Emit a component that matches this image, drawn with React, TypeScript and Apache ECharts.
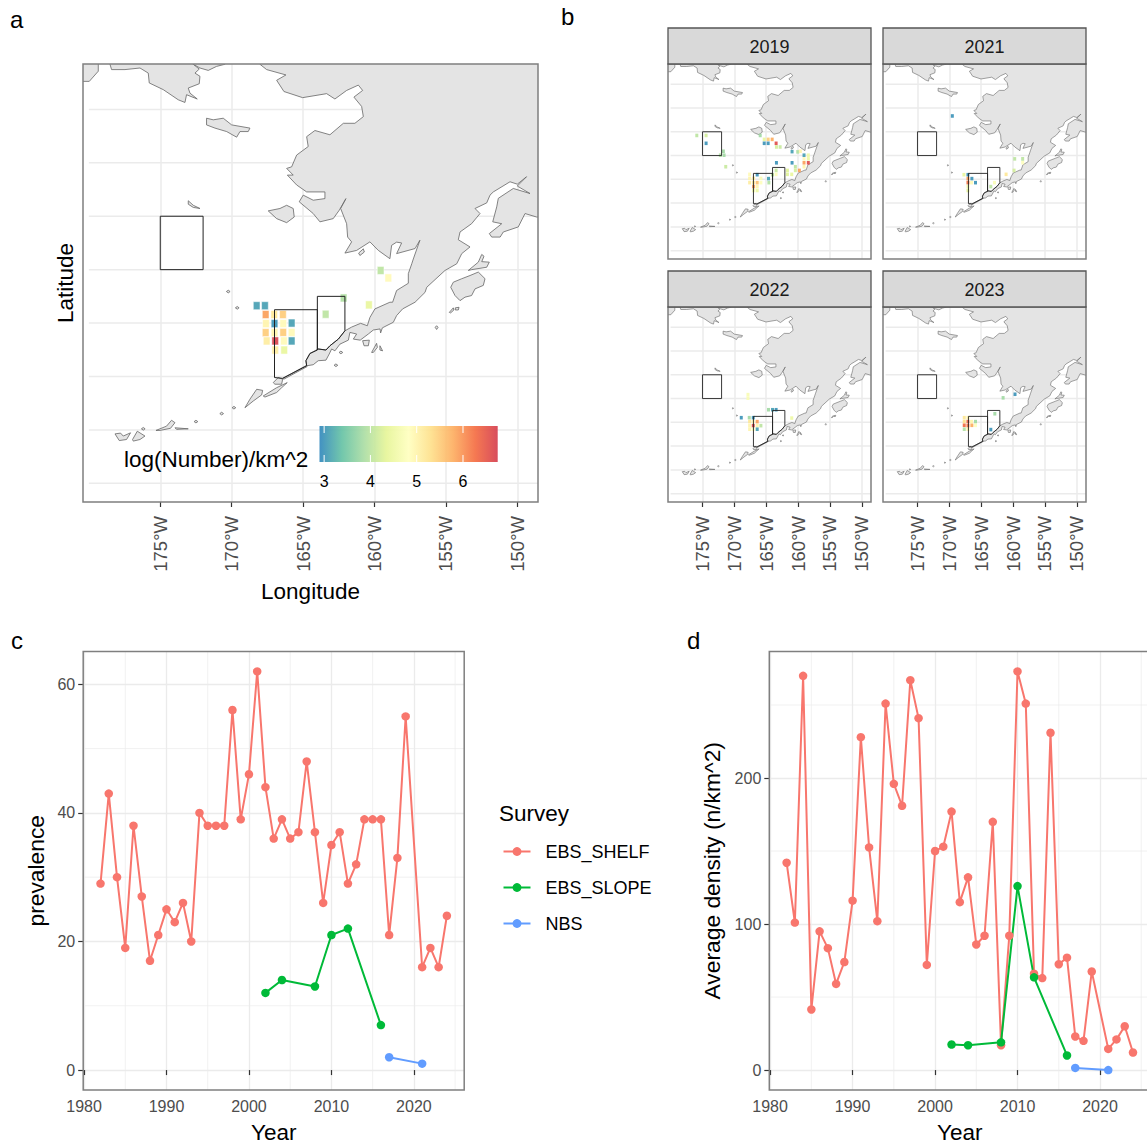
import React, { useEffect, useRef } from "react";
import * as echarts from "echarts";

const FONT = "Liberation Sans";

// ---------- map data (lon, lat) ----------
const MAINLAND: number[][] = [[-168.02,66.2],[-168.02,65.69],[-167.55,65.49],[-166.2,65.29],[-166.85,65.09],[-166.34,64.67],[-165.03,64.44],[-163.35,64.59],[-162.77,64.39],[-161.95,64.71],[-161.13,64.91],[-160.83,64.71],[-161.44,64.46],[-160.9,64.11],[-160.78,63.73],[-161.37,63.48],[-162.18,63.48],[-163.12,63.05],[-164.17,63.21],[-164.75,62.98],[-164.64,62.61],[-165.45,62.29],[-165.8,61.85],[-166.15,61.79],[-165.69,61.54],[-166.1,61.54],[-165.45,61.17],[-164.75,60.91],[-163.47,60.91],[-163.47,60.66],[-164.29,60.6],[-164.99,60.79],[-165.27,60.54],[-164.29,60.1],[-163.82,59.79],[-162.89,59.91],[-162.46,60.23],[-162.0,60.66],[-162.37,60.29],[-161.95,59.72],[-161.88,59.22],[-161.6,59.04],[-162.07,58.62],[-161.25,58.72],[-160.32,59.04],[-159.73,58.72],[-158.92,58.41],[-158.8,58.91],[-158.45,59.03],[-158.1,59.0],[-158.45,58.6],[-157.16,58.79],[-156.82,59.1],[-157.28,58.4],[-157.39,58.22],[-157.63,57.85],[-157.63,57.49],[-158.45,57.22],[-158.73,56.78],[-158.92,56.78],[-159.97,56.53],[-160.32,56.21],[-160.5,55.9],[-160.97,55.99],[-161.6,55.85],[-162.07,55.71],[-162.53,55.4],[-163.12,55.15],[-163.4,54.99],[-163.94,55.03],[-164.52,54.86],[-164.8,54.59],[-164.75,54.4],[-164.29,54.44],[-163.94,54.59],[-163.4,54.61],[-163.17,54.84],[-163.0,55.03],[-162.77,54.96],[-162.42,55.21],[-161.83,55.36],[-161.72,55.65],[-161.25,55.59],[-161.48,55.4],[-161.0,55.36],[-160.43,55.59],[-160.08,55.74],[-159.61,55.78],[-159.57,55.63],[-159.45,55.82],[-158.68,56.03],[-158.45,56.28],[-158.03,56.53],[-157.16,56.78],[-156.46,57.15],[-156.34,57.34],[-155.06,57.97],[-154.24,58.22],[-153.89,58.6],[-153.31,58.85],[-154.13,59.12],[-154.01,59.41],[-153.2,59.72],[-152.61,60.1],[-152.96,60.29],[-152.14,60.5],[-151.91,60.79],[-151.68,60.91],[-150.51,61.29],[-150.0,61.2],[-149.35,61.48],[-150.0,61.13],[-149.11,60.85],[-150.28,61.04],[-151.33,60.67],[-151.44,60.35],[-151.72,59.79],[-151.09,59.72],[-151.96,59.35],[-151.79,59.22],[-151.2,59.22],[-150.98,59.41],[-149.93,59.6],[-149.46,60.1],[-148.64,59.97],[-148.0,59.97],[-148.0,66.2]];
const CHUKOTKA: number[][] = [[-178.52,66.2],[-178.52,65.69],[-178.41,65.49],[-177.47,65.49],[-176.42,65.55],[-175.84,65.36],[-175.77,64.99],[-174.79,64.74],[-173.74,64.36],[-173.27,64.26],[-173.16,64.55],[-172.41,64.39],[-172.92,64.61],[-173.04,64.8],[-172.27,64.96],[-172.22,65.24],[-172.57,65.36],[-172.27,65.51],[-172.69,65.69],[-172.69,66.2]];
const CHUKOTKA_EAST: number[][] = [[-172.69,66.2],[-172.69,65.69],[-172.22,65.55],[-171.64,65.46],[-171.06,65.61],[-170.47,65.69],[-170.47,66.2]];
const CHUKOTKA_WEST: number[][] = [[-181,66.2],[-179.34,66.2],[-179.34,65.43],[-179.97,65.05],[-181,65.05]];
const ST_LAWRENCE: number[][] = [[-171.76,63.67],[-171.29,63.61],[-170.59,63.67],[-170.0,63.42],[-168.72,63.3],[-168.84,63.17],[-169.42,63.17],[-169.65,62.96],[-170.35,63.17],[-171.17,63.3],[-171.76,63.42]];
const ST_MATTHEW: number[][] = [[-173.04,60.58],[-172.69,60.41],[-172.22,60.29],[-172.69,60.33],[-173.04,60.45]];
const NUNIVAK: number[][] = [[-167.44,60.2],[-166.62,60.29],[-166.15,60.41],[-165.69,60.29],[-165.62,59.97],[-166.15,59.76],[-166.85,59.91]];
const HAGEMEISTER: number[][] = [[-161.11,58.62],[-160.78,58.78],[-160.71,58.66],[-161.02,58.53]];
const KODIAK: number[][] = [[-153.89,57.66],[-153.31,57.78],[-152.73,57.91],[-152.26,57.66],[-152.38,57.41],[-152.96,57.28],[-153.2,57.03],[-153.66,56.97],[-154.01,56.84],[-154.36,57.03],[-154.66,57.34],[-154.48,57.53]];
const AFOGNAK: number[][] = [[-153.43,57.97],[-152.73,58.28],[-152.49,58.57],[-152.33,58.5],[-152.49,58.3],[-151.96,58.28],[-152.14,58.09],[-153.2,58.0]];
const TRINITY_A: number[][] = [[-154.76,56.4],[-154.48,56.57],[-154.44,56.49],[-154.67,56.38]];
const TRINITY_B: number[][] = [[-154.34,56.57],[-154.08,56.59],[-154.13,56.49],[-154.34,56.49]];
const CHIRIKOF: number[][] = [[-155.75,55.84],[-155.65,55.9],[-155.55,55.84],[-155.65,55.76]];
const SHUMAGIN_A: number[][] = [[-160.83,55.34],[-160.36,55.36],[-160.43,55.15],[-160.73,55.15]];
const SHUMAGIN_B: number[][] = [[-160.2,54.9],[-159.85,55.24],[-159.8,55.09],[-160.08,54.9]];
const SHUMAGIN_C: number[][] = [[-159.62,55.15],[-159.43,54.96],[-159.62,54.99]];
const UNIMAK: number[][] = [[-167.09,53.77],[-166.74,53.96],[-166.43,53.9],[-166.5,53.71],[-166.97,53.71]];
const UNIMAK_SPIT: number[][] = [[-166.43,53.93],[-164.75,54.42],[-164.72,54.37],[-166.34,53.9]];
const UNALASKA: number[][] = [[-167.79,53.27],[-166.85,53.58],[-166.11,53.77],[-166.5,53.58],[-166.85,53.4],[-167.67,53.23]];
const UMNAK: number[][] = [[-169.07,52.83],[-168.72,53.15],[-168.25,53.52],[-167.83,53.48],[-167.9,53.31],[-168.49,53.08]];
const WEST_A: number[][] = [[-178.17,51.85],[-177.78,51.88],[-177.59,51.77],[-177.08,51.89],[-177.36,51.64],[-177.87,51.6]];
const WEST_B: number[][] = [[-176.94,51.64],[-176.61,51.95],[-176.07,51.77],[-176.42,51.64],[-176.89,51.58]];
const WEST_C: number[][] = [[-175.3,51.98],[-174.56,52.14],[-174.21,52.36],[-173.97,52.27],[-174.28,52.06],[-175.02,51.98]];
const WEST_D: number[][] = [[-173.97,52.08],[-173.04,52.04],[-173.86,52.02]];
const LAND = [MAINLAND, CHUKOTKA, CHUKOTKA_EAST, CHUKOTKA_WEST, ST_LAWRENCE, ST_MATTHEW, NUNIVAK, HAGEMEISTER, KODIAK, AFOGNAK, TRINITY_A, TRINITY_B, CHIRIKOF, SHUMAGIN_A, SHUMAGIN_B, SHUMAGIN_C, UNIMAK, UNIMAK_SPIT, UNALASKA, UMNAK, WEST_A, WEST_B, WEST_C, WEST_D];
// tiny islands: centre lon, lat
const ISLETS: number[][] = [[-170.24,57.18],[-169.61,56.57],[-170.7,52.61],[-169.84,52.83],[-172.5,52.31],[-176.19,52.04],[-162.35,54.9],[-162.7,54.42]];

const BOX_NORTH: number[][] = [[-175,60],[-172,60],[-172,58],[-175,58]];
const BOX_WEST: number[][] = [[-167,56.5],[-164,56.5],[-164,54.99],[-164.52,54.86],[-164.8,54.59],[-164.75,54.4],[-166.43,53.93],[-167,53.96]];
const BOX_EAST: number[][] = [[-164,57],[-162.07,57],[-162.07,55.71],[-162.53,55.4],[-163.12,55.15],[-163.4,54.99],[-163.94,55.03],[-164,54.99]];
const BOXES = [BOX_NORTH, BOX_WEST, BOX_EAST];

// tiles: lon, lat, log(number)/km^2
const TILES_ALL: number[][] = [[-159.57,57.97,4.0],[-159.03,57.69,4.9],[-162.16,56.94,3.9],[-163.42,56.33,4.0],[-160.39,56.68,4.4],[-168.25,56.65,3.1],[-167.67,56.65,3.1],[-167.62,56.32,5.9],[-167.02,56.32,5.2],[-166.41,56.32,5.5],[-167.6,55.98,5.0],[-167.0,55.98,3.0],[-166.39,55.98,4.9],[-165.8,56.0,3.1],[-167.62,55.64,5.5],[-167.0,55.64,5.0],[-166.39,55.65,5.5],[-165.8,55.65,4.9],[-167.55,55.33,5.1],[-166.95,55.33,6.7],[-166.34,55.33,4.9],[-165.8,55.33,3.1],[-166.95,54.99,5.1],[-166.32,54.99,4.4]];
const TILES_2019: number[][] = [[-175.89,59.69,4.0],[-174.43,59.69,4.2],[-174.43,59.03,3.0],[-171.72,58.36,3.8],[-172.19,58.03,3.9],[-171.61,58.03,3.8],[-171.35,57.06,4.1],[-165.94,59.69,3.8],[-165.31,59.36,4.4],[-164.69,59.36,5.5],[-164.06,59.36,5.8],[-165.31,59.03,3.0],[-164.69,59.03,3.0],[-163.44,59.03,6.6],[-163.39,58.72,4.2],[-162.81,58.72,4.1],[-160.94,58.33,3.1],[-160.05,58.31,3.9],[-159.64,58.36,5.0],[-159.06,58.03,3.1],[-158.39,58.03,4.5],[-159.06,57.72,4.9],[-158.39,57.72,4.5],[-159.06,57.39,5.9],[-158.39,57.39,6.6],[-159.06,57.06,5.0],[-160.42,57.06,4.0],[-163.39,57.39,3.0],[-160.94,57.39,3.0],[-161.67,56.75,4.3],[-160.42,56.75,4.2],[-159.79,56.75,5.9],[-163.44,56.75,4.1],[-161.67,56.42,4.3],[-160.99,56.42,4.4],[-163.44,56.42,4.8],[-167.6,56.42,4.9],[-166.41,56.39,3.0],[-167.6,56.08,5.0],[-166.98,56.08,5.1],[-165.83,56.08,4.7],[-164.64,56.06,3.1],[-164.01,56.39,4.0],[-167.6,55.72,5.1],[-166.98,55.72,5.2],[-166.41,55.72,5.6],[-165.83,55.72,4.8],[-164.58,55.72,3.9],[-166.98,55.39,5.9],[-166.41,55.39,5.0],[-166.98,55.06,4.6],[-166.41,55.06,4.5]];
const TILES_2021: number[][] = [[-169.53,61.33,3.0],[-159.74,57.72,4.0],[-158.49,57.72,4.0],[-158.49,57.39,4.8],[-159.84,56.75,4.2],[-161.09,56.42,5.2],[-167.71,56.39,4.4],[-167.08,56.39,3.0],[-166.46,56.06,3.0],[-165.89,55.72,3.0],[-167.08,56.06,5.9],[-167.08,55.72,6.2],[-166.51,55.72,4.9],[-167.08,55.39,4.6],[-167.08,55.06,4.4],[-162.92,55.72,4.7],[-163.49,55.39,4.0]];
const TILES_2022: number[][] = [[-167.86,58.33,4.7],[-167.86,58.03,4.7],[-164.64,57.06,3.8],[-164.01,57.06,3.1],[-163.44,57.06,3.0],[-160.99,56.36,4.5],[-168.91,56.39,3.0],[-167.66,56.39,3.8],[-167.03,56.39,3.0],[-167.6,56.06,5.2],[-167.03,56.06,5.0],[-166.41,56.06,5.9],[-167.6,55.72,5.0],[-167.03,55.72,6.6],[-166.41,55.72,5.0],[-165.83,55.72,4.0],[-167.6,55.42,5.0],[-167.03,55.42,4.8],[-166.41,55.42,3.1]];
const TILES_2023: number[][] = [[-161.56,58.06,3.8],[-159.69,58.36,3.0],[-162.86,56.72,3.8],[-167.66,56.39,5.2],[-167.08,56.39,5.0],[-167.66,56.06,5.3],[-167.08,56.06,6.3],[-166.51,56.06,5.0],[-165.89,56.06,3.8],[-167.66,55.75,6.3],[-167.08,55.72,6.2],[-166.46,55.75,5.8],[-165.89,55.75,4.8],[-167.66,55.42,3.9],[-167.08,55.42,5.0],[-163.49,55.39,3.0]];

const LON_TICKS = [-175, -170, -165, -160, -155, -150];
const LAT_LINES = [64, 62, 60, 58, 56, 54, 52, 50];
const COLOR_TICKS = [3, 4, 5, 6];
const PALETTE = ["#3288BD", "#66C2A5", "#ABDDA4", "#E6F598", "#FFFFBF", "#FEE08B", "#FDAE61", "#F46D43", "#D53E4F"];
const FACET_YEARS = ["2019", "2021", "2022", "2023"];

// ---------- time series ----------
const SHELF_YEARS = [1982,1983,1984,1985,1986,1987,1988,1989,1990,1991,1992,1993,1994,1995,1996,1997,1998,1999,2000,2001,2002,2003,2004,2005,2006,2007,2008,2009,2010,2011,2012,2013,2014,2015,2016,2017,2018,2019,2021,2022,2023,2024];
const SHELF_PREV = [29,43,30,19,38,27,17,21,25,23,26,20,40,38,38,38,56,39,46,62,44,36,39,36,37,48,37,26,35,37,29,32,39,39,39,21,33,55,16,19,16,24];
const SHELF_DENS = [142,101,270,41.5,95,83.5,59,74,116,228,152.5,102,251,196,181,267,241,72,150,153,177,115,132,86,92,170,17,92,273,251,66,63,231,72.5,77,23,20,67.5,14.5,21,30,12];
const SLOPE_YEARS = [2002,2004,2008,2010,2012,2016];
const SLOPE_PREV = [12,14,13,21,22,7];
const SLOPE_DENS = [17.5,17,19,126,63.5,10];
const NBS_YEARS = [2017,2021];
const NBS_PREV = [2,1];
const NBS_DENS = [1.5,0];
const YEAR_MAJOR = [1980,1990,2000,2010,2020];
const YEAR_MINOR = [1985,1995,2005,2015,2025];
const PREV_MAJOR = [0,20,40,60];
const PREV_MINOR = [10,30,50];
const DENS_MAJOR = [0,100,200];
const DENS_MINOR = [50,150,250];
const SURVEYS = ["EBS_SHELF", "EBS_SLOPE", "NBS"];
const SURVEY_COLORS = ["#F8766D", "#00BA38", "#619CFF"];

const zip = (a: number[], b: number[]) => a.map((v, i) => [v, b[i]]);

const LON_MIN = -180.41, LON_MAX = -148.55, LAT_MIN = 49.3, LAT_MAX = 65.7;
const COLOR_MIN = 2.9, COLOR_MAX = 6.75;
const GRID_COLOR = "#ebebeb";
const BORDER = "#7f7f7f";

const PANELS = [
  { left: 83, top: 64, width: 455, height: 438 },
  { left: 668, top: 64, width: 203, height: 195 },
  { left: 883, top: 64, width: 203, height: 195 },
  { left: 668, top: 307, width: 203, height: 195 },
  { left: 883, top: 307, width: 203, height: 195 },
];
const PLOT_C = { left: 83.2, top: 651.5, width: 381, height: 438.5 };
const PLOT_D = { left: 769.3, top: 651.5, width: 381, height: 438.5 };

function segments(gridIndex: number, segs: number[][], width: number) {
  return {
    type: "custom", xAxisIndex: gridIndex, yAxisIndex: gridIndex, z: 1, silent: true, clip: true,
    data: segs,
    renderItem: (_p: any, api: any) => {
      const a = api.coord([api.value(0), api.value(1)]);
      const b = api.coord([api.value(2), api.value(3)]);
      return { type: "line", shape: { x1: a[0], y1: a[1], x2: b[0], y2: b[1] }, style: { stroke: GRID_COLOR, lineWidth: width } };
    },
  };
}

function landSeries(gridIndex: number, big: boolean) {
  return {
    type: "custom", xAxisIndex: gridIndex, yAxisIndex: gridIndex, z: 2, silent: true, clip: true,
    data: LAND.map((poly) => poly[0]),
    renderItem: (p: any, api: any) => ({
      type: "polygon",
      shape: { points: LAND[p.dataIndex].map((c) => api.coord(c)) },
      style: { fill: "#e4e4e4", stroke: "#666666", lineWidth: big ? 0.8 : 0.6 },
    }),
  };
}

function isletSeries(gridIndex: number, big: boolean) {
  return {
    type: "custom", xAxisIndex: gridIndex, yAxisIndex: gridIndex, z: 2, silent: true, clip: true,
    data: ISLETS,
    renderItem: (_p: any, api: any) => {
      const lon = api.value(0), lat = api.value(1);
      const pts = [[lon - 0.13, lat], [lon, lat + 0.05], [lon + 0.13, lat], [lon, lat - 0.05]].map((c) => api.coord(c));
      return { type: "polygon", shape: { points: pts }, style: { fill: "#e4e4e4", stroke: "#666666", lineWidth: big ? 0.8 : 0.6 } };
    },
  };
}

function tileSeries(gridIndex: number, tiles: number[][], big: boolean) {
  return {
    type: "custom", xAxisIndex: gridIndex, yAxisIndex: gridIndex, z: 3, silent: true, clip: true,
    data: tiles,
    renderItem: (_p: any, api: any) => {
      const lon = api.value(0), lat = api.value(1), v = api.value(2);
      const a = api.coord([lon - 0.235, lat + 0.15]);
      const b = api.coord([lon + 0.235, lat - 0.15]);
      const t = Math.min(1, Math.max(0, (v - COLOR_MIN) / (COLOR_MAX - COLOR_MIN)));
      return {
        type: "rect",
        shape: { x: a[0], y: a[1], width: b[0] - a[0], height: b[1] - a[1] },
        style: { fill: echarts.color.lerp(t, PALETTE), opacity: 0.92, stroke: big ? "rgba(255,255,255,0.55)" : "none", lineWidth: big ? 1 : 0 },
      };
    },
  };
}

function boxSeries(gridIndex: number, big: boolean) {
  return {
    type: "custom", xAxisIndex: gridIndex, yAxisIndex: gridIndex, z: 4, silent: true, clip: true,
    data: BOXES.map((b) => b[0]),
    renderItem: (p: any, api: any) => {
      const pts = BOXES[p.dataIndex].map((c) => api.coord(c));
      return { type: "polygon", shape: { points: pts }, style: { fill: "none", stroke: "#222222", lineWidth: big ? 1 : 0.9 } };
    },
  };
}

function mapAxes(i: number) {
  const showLabels = i === 0 || i >= 3;
  const x: any = {
    type: "value", gridIndex: i, min: LON_MIN, max: LON_MAX,
    axisLine: { show: false },
    axisTick: { show: showLabels, customValues: LON_TICKS, length: 5, lineStyle: { color: "#333333", width: 1.2 } },
    axisLabel: {
      show: showLabels, customValues: LON_TICKS, rotate: 90, margin: 14, fontFamily: FONT, fontSize: 18.5, color: "#4d4d4d",
      formatter: (v: number) => `${Math.abs(v)}°W`,
    },
    splitLine: { show: true, lineStyle: { color: GRID_COLOR, width: 1.5 } },
  };
  const y: any = {
    type: "value", gridIndex: i, min: LAT_MIN, max: LAT_MAX,
    axisLine: { show: false }, axisTick: { show: false }, axisLabel: { show: false }, splitLine: { show: false },
  };
  if (i === 0) {
    x.name = "Longitude"; x.nameLocation = "middle"; x.nameGap = 78;
    x.nameTextStyle = { fontFamily: FONT, fontSize: 22.5, color: "#000" };
    y.name = "Latitude"; y.nameLocation = "middle"; y.nameGap = 6;
    y.nameTextStyle = { fontFamily: FONT, fontSize: 22.5, color: "#000" };
  }
  return { x, y };
}

function plotAxes(i: number, yMin: number, yMax: number, yMajor: number[], yName: string, yGap: number) {
  const x: any = {
    type: "value", gridIndex: i, min: 1979.9, max: 2026.1,
    name: "Year", nameLocation: "middle", nameGap: 31,
    nameTextStyle: { fontFamily: FONT, fontSize: 22.5, color: "#000" },
    axisLine: { show: false },
    axisTick: { show: true, customValues: YEAR_MAJOR, length: 5, lineStyle: { color: "#333333", width: 1.2 } },
    axisLabel: { show: true, customValues: YEAR_MAJOR, margin: 8, fontFamily: FONT, fontSize: 16, color: "#4d4d4d", formatter: (v: number) => String(v) },
    splitLine: { show: true, lineStyle: { color: GRID_COLOR, width: 1.3 } },
  };
  const y: any = {
    type: "value", gridIndex: i, min: yMin, max: yMax,
    name: yName, nameLocation: "middle", nameGap: yGap,
    nameTextStyle: { fontFamily: FONT, fontSize: 22.8, color: "#000" },
    axisLine: { show: false },
    axisTick: { show: true, customValues: yMajor, length: 5, lineStyle: { color: "#333333", width: 1.2 } },
    axisLabel: { show: true, customValues: yMajor, margin: 8, fontFamily: FONT, fontSize: 16, color: "#4d4d4d", formatter: (v: number) => String(v) },
    splitLine: { show: true, lineStyle: { color: GRID_COLOR, width: 1.3 } },
  };
  return { x, y };
}

function lineSeries(gridIndex: number, k: number, data: number[][]) {
  return {
    type: "line", name: SURVEYS[k], xAxisIndex: gridIndex, yAxisIndex: gridIndex, z: 5,
    data, symbol: "circle", symbolSize: 8.5, showSymbol: true,
    lineStyle: { color: SURVEY_COLORS[k], width: 2 },
    itemStyle: { color: SURVEY_COLORS[k] },
  };
}

function minorSegments(gridIndex: number, yMin: number, yMax: number, yMinor: number[]) {
  const v = YEAR_MINOR.map((yr) => [yr, yMin, yr, yMax]);
  const h = yMinor.map((val) => [1979.9, val, 2026.1, val]);
  return segments(gridIndex, [...v, ...h], 0.7);
}

const textEl = (text: string, x: number, y: number, size: number, fill: string, align = "left") => ({
  type: "text", x, y, z: 60, silent: true,
  style: { text, fontFamily: FONT, fontSize: size, fill, textAlign: align, textVerticalAlign: "middle" },
});

export default function App() {
  const ref = useRef<HTMLDivElement>(null);
  useEffect(() => {
    const chart = echarts.init(ref.current!, undefined, { renderer: "svg" });
    const tileSets = [TILES_ALL, TILES_2019, TILES_2021, TILES_2022, TILES_2023];
    const xAxes: any[] = [], yAxes: any[] = [], series: any[] = [];

    PANELS.forEach((_, i) => {
      const ax = mapAxes(i);
      xAxes.push(ax.x); yAxes.push(ax.y);
      const big = i === 0;
      series.push(segments(i, LAT_LINES.map((lat) => [-180, lat, LON_MAX, lat]), 1.5));
      series.push(landSeries(i, big));
      series.push(isletSeries(i, big));
      series.push(tileSeries(i, tileSets[i], big));
      series.push(boxSeries(i, big));
    });

    const c = plotAxes(5, -3.1, 65.1, PREV_MAJOR, "prevalence", 36);
    xAxes.push(c.x); yAxes.push(c.y);
    const d = plotAxes(6, -13.65, 286.65, DENS_MAJOR, "Average density (n/km^2)", 46);
    xAxes.push(d.x); yAxes.push(d.y);
    series.push(minorSegments(5, -3.1, 65.1, PREV_MINOR));
    series.push(minorSegments(6, -13.65, 286.65, DENS_MINOR));
    series.push(lineSeries(5, 0, zip(SHELF_YEARS, SHELF_PREV)));
    series.push(lineSeries(5, 1, zip(SLOPE_YEARS, SLOPE_PREV)));
    series.push(lineSeries(5, 2, zip(NBS_YEARS, NBS_PREV)));
    series.push(lineSeries(6, 0, zip(SHELF_YEARS, SHELF_DENS)));
    series.push(lineSeries(6, 1, zip(SLOPE_YEARS, SLOPE_DENS)));
    series.push(lineSeries(6, 2, zip(NBS_YEARS, NBS_DENS)));

    const grids = [...PANELS, PLOT_C, PLOT_D].map((g) => ({ ...g, containLabel: false, show: false }));

    const graphics: any[] = [];
    // panel borders
    [...PANELS, PLOT_C, PLOT_D].forEach((g) => {
      graphics.push({ type: "rect", z: 50, silent: true, shape: { x: g.left, y: g.top, width: g.width, height: g.height }, style: { fill: "none", stroke: BORDER, lineWidth: 1.5 } });
    });
    // facet strips
    PANELS.slice(1).forEach((g, i) => {
      graphics.push({ type: "rect", z: 51, silent: true, shape: { x: g.left, y: g.top - 36, width: g.width, height: 36 }, style: { fill: "#d9d9d9", stroke: "#555555", lineWidth: 1.3 } });
      graphics.push(textEl(FACET_YEARS[i], g.left + g.width / 2, g.top - 17.5, 18, "#1a1a1a", "center"));
    });
    // colour bar
    const barX = (v: number) => 319.5 + ((v - COLOR_MIN) / (COLOR_MAX - COLOR_MIN)) * 178.2;
    graphics.push({
      type: "rect", z: 52, silent: true, shape: { x: 319.5, y: 426, width: 178.2, height: 36 },
      style: {
        fill: new echarts.graphic.LinearGradient(0, 0, 1, 0, PALETTE.map((color, i) => ({ offset: i / (PALETTE.length - 1), color }))),
        opacity: 0.92,
      },
    });
    COLOR_TICKS.forEach((v) => {
      const x = barX(v);
      graphics.push({ type: "line", z: 53, silent: true, shape: { x1: x, y1: 426, x2: x, y2: 433 }, style: { stroke: "#fff", lineWidth: 1 } });
      graphics.push({ type: "line", z: 53, silent: true, shape: { x1: x, y1: 455, x2: x, y2: 462 }, style: { stroke: "#fff", lineWidth: 1 } });
      graphics.push(textEl(String(v), x, 481, 16, "#000", "center"));
    });
    graphics.push(textEl("log(Number)/km^2", 124, 459.5, 22.5, "#000"));
    // panel tags
    graphics.push(textEl("a", 10, 19, 24, "#000"));
    graphics.push(textEl("b", 561, 16, 24, "#000"));
    graphics.push(textEl("c", 11, 640, 24, "#000"));
    graphics.push(textEl("d", 687, 640, 24, "#000"));
    graphics.push(textEl("Survey", 499, 813, 22.5, "#000"));

    chart.setOption({
      animation: false,
      backgroundColor: "#ffffff",
      textStyle: { fontFamily: FONT },
      grid: grids,
      xAxis: xAxes,
      yAxis: yAxes,
      series,
      graphic: graphics,
      legend: {
        show: true, orient: "vertical", left: 502.5, top: 842.5, data: SURVEYS, selectedMode: false,
        itemWidth: 27, itemHeight: 11, itemGap: 18, padding: 0,
        textStyle: { fontFamily: FONT, fontSize: 18, color: "#000", padding: [0, 0, 0, 10] },
      },
    });
    return () => chart.dispose();
  }, []);
  return (
    <div style={{ position: "fixed", left: 0, top: 0, width: 1147, height: 1145, overflow: "hidden" }}>
      <div ref={ref} style={{ width: 1165, height: 1145 }} />
    </div>
  );
}
